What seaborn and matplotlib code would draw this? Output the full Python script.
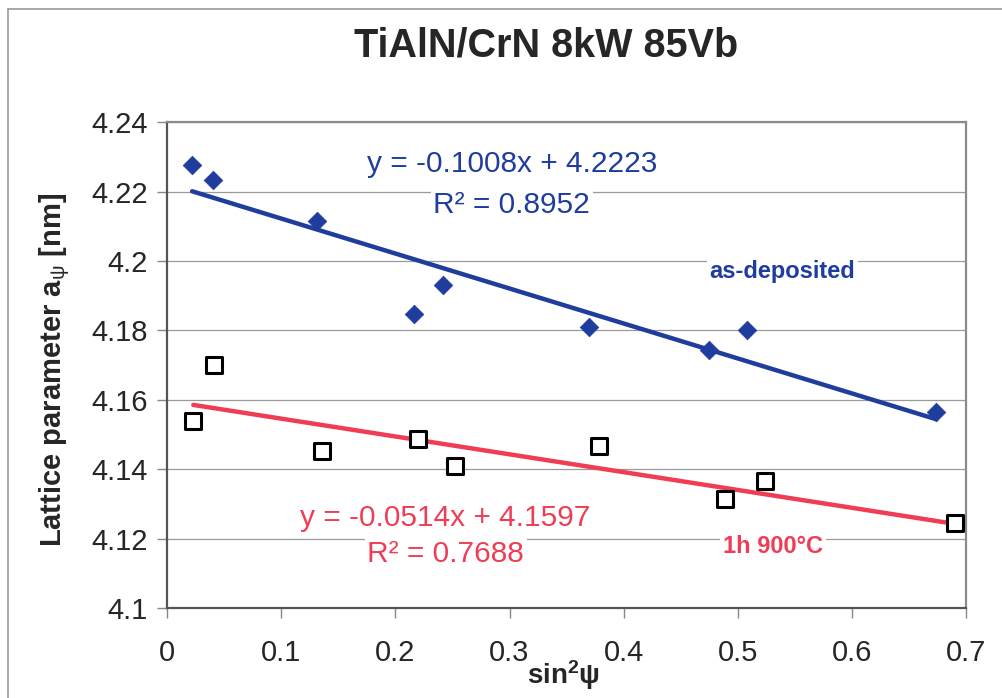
import numpy as np
import pandas as pd
import matplotlib
matplotlib.use("Agg")
import matplotlib.pyplot as plt
from matplotlib.ticker import FuncFormatter
from matplotlib.lines import Line2D
import seaborn as sns

# as-deposited (blue diamonds)
x_dep = [0.022, 0.040, 0.131, 0.216, 0.242, 0.370, 0.475, 0.508, 0.674]
y_dep = [4.2277, 4.2233, 4.2116, 4.1846, 4.1930, 4.1810, 4.1743, 4.1802, 4.1565]
# 1h 900C (open squares)
x_ann = [0.023, 0.041, 0.136, 0.220, 0.252, 0.378, 0.489, 0.524, 0.690]
y_ann = [4.1539, 4.1700, 4.1453, 4.1487, 4.1410, 4.1467, 4.1315, 4.1367, 4.1246]

# linear trendlines as given on the chart
slope_dep, icpt_dep, r2_dep = -0.1008, 4.2223, 0.8952
slope_ann, icpt_ann, r2_ann = -0.0514, 4.1597, 0.7688

xticks = [0, 0.1, 0.2, 0.3, 0.4, 0.5, 0.6, 0.7]
yticks = [4.1, 4.12, 4.14, 4.16, 4.18, 4.2, 4.22, 4.24]

blue = "#1f3d9c"
red = "#ee3d55"

sns.set_theme(style="white")
plt.rcParams['font.family'] = ['Liberation Sans', 'DejaVu Sans']
plt.rcParams['mathtext.fontset'] = 'custom'
plt.rcParams['mathtext.rm'] = 'Liberation Sans'
plt.rcParams['mathtext.it'] = 'Liberation Sans'
plt.rcParams['mathtext.bf'] = 'Liberation Sans:bold'

fig = plt.figure(figsize=(10.02, 6.98), dpi=100)
ax = fig.add_axes([0.1667, 0.129, 0.7975, 0.696])

df_dep = pd.DataFrame({"x": x_dep, "y": y_dep})
df_ann = pd.DataFrame({"x": x_ann, "y": y_ann})

xd = np.array([min(x_dep), max(x_dep)])
xa = np.array([min(x_ann), max(x_ann)])
fit_dep = pd.DataFrame({"x": xd, "y": slope_dep * xd + icpt_dep})
fit_ann = pd.DataFrame({"x": xa, "y": slope_ann * xa + icpt_ann})

sns.lineplot(data=fit_dep, x="x", y="y", color=blue, linewidth=3.2, ax=ax, zorder=3)
sns.lineplot(data=fit_ann, x="x", y="y", color=red, linewidth=3.2, ax=ax, zorder=3)
sns.scatterplot(data=df_dep, x="x", y="y", marker="D", s=90, color=blue,
                edgecolor=blue, linewidth=0.5, ax=ax, zorder=4)
sns.scatterplot(data=df_ann, x="x", y="y", marker="s", s=140, facecolor="white",
                edgecolor="black", linewidth=2.2, ax=ax, zorder=4)

ax.set_xlim(0, 0.7)
ax.set_ylim(4.1, 4.24)
ax.set_xticks(xticks)
ax.set_yticks(yticks)
ax.xaxis.set_major_formatter(FuncFormatter(lambda v, p: "%g" % round(v, 2)))
ax.yaxis.set_major_formatter(FuncFormatter(lambda v, p: "%g" % round(v, 2)))
ax.tick_params(axis="both", which="major", labelsize=21, length=7, width=1,
               color="#888888", direction="out", left=True, bottom=True)
ax.tick_params(axis="y", pad=7)
ax.tick_params(axis="x", pad=15)
ax.grid(axis="y", color="#9a9a9a", linewidth=0.9)
ax.set_axisbelow(True)
for side in ["top", "right", "left", "bottom"]:
    ax.spines[side].set_color("#8a8a8a")
    ax.spines[side].set_linewidth(1.6)
ax.spines["left"].set_color("#555555")
ax.spines["bottom"].set_color("#555555")
ax.set_xlabel("")
ax.set_ylabel("")

fig.text(564 / 1002, 1 - 675 / 698, "sin$^{\\mathbf{2}}$ψ", ha="center", va="center",
         fontsize=20, fontweight="bold")
fig.text(55 / 1002, 1 - 370 / 698, "Lattice parameter a$_{ψ}$ [nm]", rotation=90,
         ha="center", va="center", fontsize=21, fontweight="bold")

fig.text(0.545, 0.935, "TiAlN/CrN 8kW 85Vb", ha="center", va="center",
         fontsize=28.5, fontweight="bold")

box = dict(facecolor="white", edgecolor="none", pad=2)
ax.text(0.302, 4.2280, "y = %.4fx + %.4f" % (slope_dep, icpt_dep), color=blue,
        fontsize=21.5, ha="center", va="center", bbox=box)
ax.text(0.302, 4.2160, "R² = %.4f" % r2_dep, color=blue,
        fontsize=21.5, ha="center", va="center", bbox=box)
ax.text(0.539, 4.1970, "as-deposited", color=blue, fontsize=17, fontweight="bold",
        ha="center", va="center", bbox=box)

ax.text(0.244, 4.1260, "y = %.4fx + %.4f" % (slope_ann, icpt_ann), color=red,
        fontsize=21.5, ha="center", va="center", bbox=box)
ax.text(0.244, 4.1155, "R² = %.4f" % r2_ann, color=red,
        fontsize=21.5, ha="center", va="center", bbox=box)
ax.text(0.531, 4.1178, "1h 900°C", color=red, fontsize=17, fontweight="bold",
        ha="center", va="center", bbox=box)

# scanned page frame (top and left edges)
fig.add_artist(Line2D([0.008, 1.0], [0.987, 0.987], color="#999999", linewidth=1.2))
fig.add_artist(Line2D([0.008, 0.008], [0.0, 0.987], color="#999999", linewidth=1.2))

fig.savefig("out.png", dpi=100)
